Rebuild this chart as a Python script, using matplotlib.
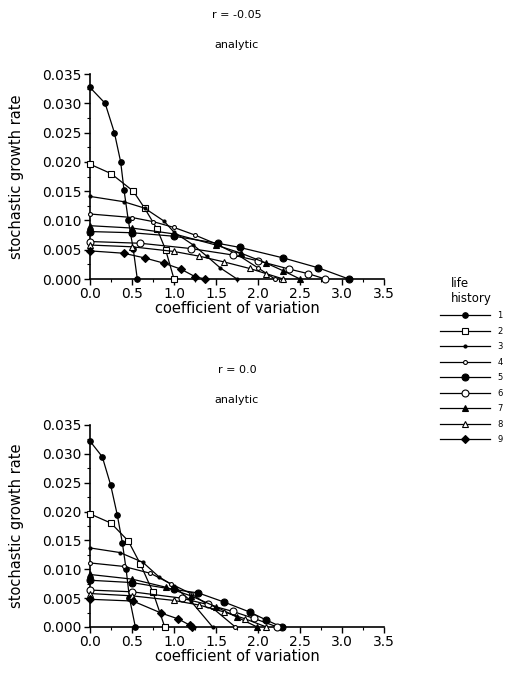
import matplotlib
matplotlib.use("Agg")
import matplotlib.pyplot as plt
from matplotlib.ticker import MultipleLocator, FixedLocator

# ---------------- data ----------------
life_histories = ["1", "2", "3", "4", "5", "6", "7", "8", "9"]
panel_titles = ["r = -0.05", "r = 0.0"]
panel_subtitle = "analytic"
x_ticks = [0.0, 0.5, 1.0, 1.5, 2.0, 2.5, 3.0, 3.5]
x_tick_labels = ["0.0", "0.5", "1.0", "1.5", "2.0", "2.5", "3.0", "3.5"]
y_ticks = [0.000, 0.005, 0.010, 0.015, 0.020, 0.025, 0.030, 0.035]
y_tick_labels = ["0.000", "0.005", "0.010", "0.015", "0.020", "0.025", "0.030", "0.035"]

# panel r = -0.05 : (cv, growth rate) per life history
top_cv = [
    [0, 0.18, 0.29, 0.365, 0.405, 0.456, 0.515, 0.563],
    [0, 0.25, 0.515, 0.65, 0.8, 0.9, 1.0],
    [0, 0.4, 0.65, 0.88, 1.0, 1.23, 1.39, 1.55, 1.75],
    [0, 0.5, 0.75, 1.0, 1.25, 1.5, 1.75, 2.0, 2.2],
    [0, 0.5, 1.0, 1.52, 1.78, 2.3, 2.72, 3.08],
    [0, 0.6, 1.2, 1.7, 2.0, 2.37, 2.6, 2.8],
    [0, 0.5, 1.0, 1.5, 1.8, 2.1, 2.3, 2.5],
    [0, 0.5, 1.0, 1.3, 1.6, 1.9, 2.1, 2.3],
    [0, 0.4, 0.65, 0.88, 1.08, 1.25, 1.37],
]
top_val = [
    [0.0327, 0.0300, 0.0250, 0.0200, 0.0152, 0.0100, 0.0051, 0.0000],
    [0.0196, 0.0180, 0.0150, 0.0121, 0.0085, 0.0050, 0.0000],
    [0.0141, 0.0132, 0.0121, 0.0099, 0.0080, 0.0058, 0.0039, 0.0019, 0.0000],
    [0.0111, 0.0105, 0.0098, 0.0088, 0.0075, 0.0060, 0.0042, 0.0019, 0.0000],
    [0.0081, 0.0079, 0.0073, 0.0061, 0.0054, 0.0036, 0.0019, 0.0000],
    [0.0064, 0.0061, 0.0052, 0.0041, 0.0031, 0.0017, 0.0009, 0.0000],
    [0.0091, 0.0087, 0.0077, 0.0058, 0.0044, 0.0027, 0.0014, 0.0000],
    [0.0058, 0.0055, 0.0047, 0.0039, 0.0029, 0.0018, 0.0009, 0.0000],
    [0.0048, 0.0044, 0.0036, 0.0027, 0.0017, 0.0004, 0.0000],
]

# panel r = 0.0
bot_cv = [
    [0, 0.146, 0.246, 0.325, 0.385, 0.43, 0.47, 0.54],
    [0, 0.25, 0.456, 0.6, 0.75, 0.89],
    [0, 0.357, 0.63, 0.82, 1.0, 1.2, 1.46],
    [0, 0.4, 0.72, 0.96, 1.2, 1.45, 1.73],
    [0, 0.5, 1.0, 1.29, 1.6, 1.9, 2.1, 2.28],
    [0, 0.5, 1.09, 1.4, 1.7, 1.95, 2.23],
    [0, 0.5, 0.9, 1.2, 1.5, 1.75, 1.99],
    [0, 0.5, 1.0, 1.3, 1.6, 1.85, 2.1],
    [0, 0.51, 0.85, 1.05, 1.19, 1.22],
]
bot_val = [
    [0.0322, 0.0295, 0.0246, 0.0194, 0.0146, 0.0100, 0.0050, 0.0000],
    [0.0196, 0.0180, 0.0149, 0.0109, 0.0060, 0.0000],
    [0.0137, 0.0129, 0.0112, 0.0087, 0.0071, 0.0045, 0.0000],
    [0.0111, 0.0105, 0.0093, 0.0075, 0.0058, 0.0034, 0.0000],
    [0.0081, 0.0077, 0.0065, 0.0059, 0.0043, 0.0026, 0.0012, 0.0000],
    [0.0064, 0.0061, 0.0050, 0.0039, 0.0027, 0.0015, 0.0000],
    [0.0091, 0.0083, 0.0069, 0.0054, 0.0035, 0.0017, 0.0000],
    [0.0058, 0.0054, 0.0046, 0.0038, 0.0026, 0.0014, 0.0000],
    [0.0048, 0.0045, 0.0024, 0.0014, 0.0003, 0.0000],
]

# ---------------- styles ----------------
markers = ["o", "s", "o", "o", "o", "o", "^", "^", "D"]
mfaces = ["black", "white", "black", "white", "black", "white", "black", "white", "black"]
msizes = [4.0, 4.0, 2.2, 2.8, 5.0, 5.0, 4.0, 4.0, 3.6]

plt.rcParams["font.family"] = ["DejaVu Sans"]
fig = plt.figure(figsize=(5.06, 6.76), dpi=100)

axes_rects = [
    [90 / 506, 1 - 279 / 676, 294 / 506, 205 / 676],
    [90 / 506, 1 - 627 / 676, 294 / 506, 202 / 676],
]
panels = [(top_cv, top_val), (bot_cv, bot_val)]
title_y = [1 - 15 / 676, 1 - 370 / 676]
sub_y = [1 - 45 / 676, 1 - 400 / 676]

handles = []
for k, (rect, (cvs, vals)) in enumerate(zip(axes_rects, panels)):
    ax = fig.add_axes(rect)
    for i in range(len(life_histories)):
        ln, = ax.plot(cvs[i], vals[i], color="black", lw=0.9,
                      marker=markers[i], ms=msizes[i], mfc=mfaces[i],
                      mec="black", mew=0.8, clip_on=False, zorder=3)
        if k == 0:
            handles.append(ln)
    ax.set_xlim(0, 3.5)
    ax.set_ylim(0, 0.035)
    ax.xaxis.set_major_locator(FixedLocator(x_ticks))
    ax.set_xticklabels(x_tick_labels)
    ax.yaxis.set_major_locator(FixedLocator(y_ticks))
    ax.set_yticklabels(y_tick_labels)
    ax.xaxis.set_minor_locator(MultipleLocator(0.25))
    ax.yaxis.set_minor_locator(MultipleLocator(0.0025))
    for s in ["top", "right"]:
        ax.spines[s].set_visible(False)
    ax.spines["left"].set_linewidth(1.2)
    ax.spines["bottom"].set_linewidth(1.2)
    ax.tick_params(axis="both", which="major", direction="out", length=4,
                   width=1.0, labelsize=10, pad=2)
    ax.tick_params(axis="both", which="minor", direction="out", length=2.5, width=0.8)
    ax.set_xlabel("coefficient of variation", fontsize=10.5, labelpad=0)
    ax.set_ylabel("stochastic growth rate", fontsize=10.5)
    ax.yaxis.set_label_coords(-0.225, 0.5)
    fig.text(237 / 506, title_y[k], panel_titles[k], ha="center", va="center", fontsize=8)
    fig.text(237 / 506, sub_y[k], panel_subtitle, ha="center", va="center", fontsize=8)

leg = fig.legend(handles, life_histories, loc="upper left",
                 bbox_to_anchor=(434 / 506, 1 - 271 / 676), frameon=False,
                 title="life\nhistory", fontsize=6, title_fontsize=8.5,
                 handlelength=6.0, handletextpad=0.9, labelspacing=0.78,
                 borderpad=0.2)
leg._legend_box.align = "center"

fig.savefig("out.png", dpi=100)
